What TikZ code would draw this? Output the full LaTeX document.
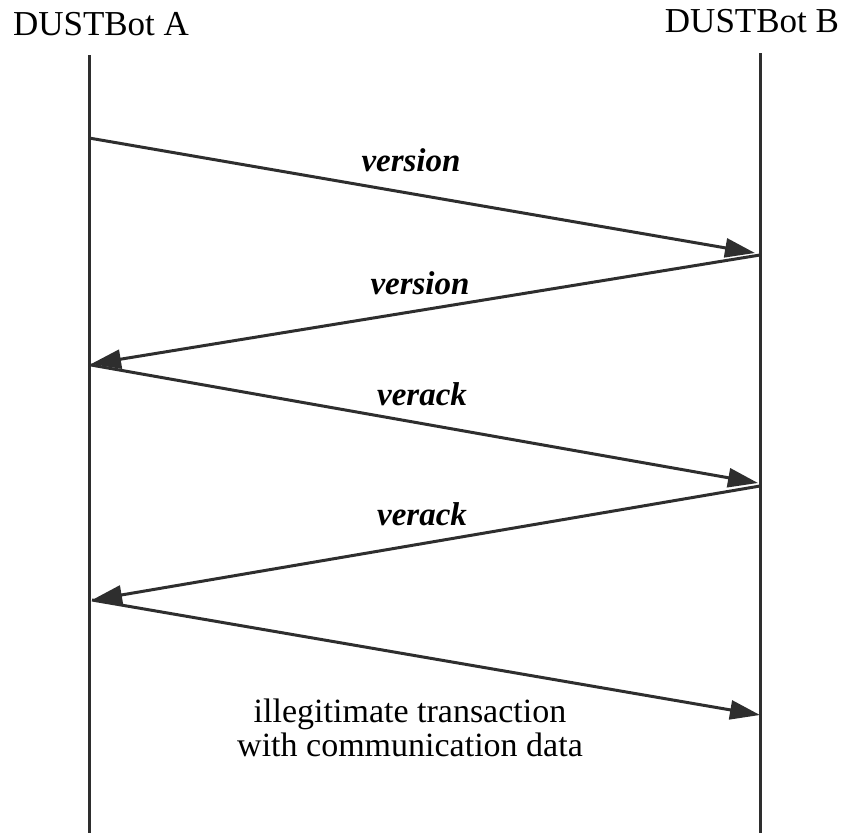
\documentclass[tikz,border=0pt]{standalone}
\usepackage{fontspec}
\setmainfont{Liberation Serif}
\usetikzlibrary{arrows.meta}
\begin{document}
\begin{tikzpicture}[x=1pt,y=-1pt,
  lifeline/.style={line width=3pt,draw=black!82},
  msg/.style={line width=3pt,draw=black!82,-{Triangle[length=30pt,width=19pt]}},
  party/.style={font=\fontsize{35}{40}\selectfont,anchor=base,inner sep=0pt},
  msglabel/.style={font=\fontsize{33}{38}\selectfont\bfseries\itshape,anchor=base,inner sep=0pt},
  note/.style={font=\fontsize{34}{33}\selectfont,align=center,inner sep=0pt,anchor=base}]
\useasboundingbox (0,0) rectangle (844,833);
% participants
\node[party] (pa) at (101,35) {DUSTBot A};
\node[party] (pb) at (752,32) {DUSTBot B};
% lifelines
\coordinate (a0) at (89,55);  \coordinate (a1) at (89,833);
\coordinate (b0) at (760,53); \coordinate (b1) at (760,833);
\draw[lifeline] (a0) -- (a1);
\draw[lifeline] (b0) -- (b1);
% message end points on the lifelines
\coordinate (m1s) at (89,138);  \coordinate (m1e) at (755,253);
\coordinate (m2s) at (760,255); \coordinate (m2e) at (91,364);
\coordinate (m3s) at (91,365);  \coordinate (m3e) at (758,483);
\coordinate (m4s) at (760,486); \coordinate (m4e) at (92,600);
\coordinate (m5s) at (92,600);  \coordinate (m5e) at (760,715);
% messages
\draw[msg] (m1s) -- (m1e);
\draw[msg] (m2s) -- (m2e);
\draw[msg] (m3s) -- (m3e);
\draw[msg] (m4s) -- (m4e);
\draw[msg] (m5s) -- (m5e);
% labels
\node[msglabel] (l1) at (411,171) {version};
\node[msglabel] (l2) at (420,294) {version};
\node[msglabel] (l3) at (422,405) {verack};
\node[msglabel] (l4) at (422,525) {verack};
\node[note] (l5) at (410,722) {illegitimate transaction};
\node[note] (l6) at (410,756) {with communication data};
\end{tikzpicture}
\end{document}
